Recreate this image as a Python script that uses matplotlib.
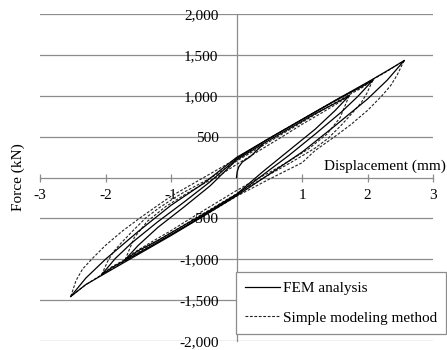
import matplotlib
matplotlib.use("Agg")
import matplotlib.pyplot as plt
from matplotlib.lines import Line2D

# ---------------- data (displacement mm, force kN) ----------------
# FEM analysis
fem_init_d = [0.0, 0.01, 0.035, 0.09, 0.21, 0.4]
fem_init_f = [0, 70, 130, 190, 255, 400]

fem_l1_up_d = [-1.70, -1.5, -1.2, -0.8, -0.4, 0.0, 0.4, 0.8, 1.2, 1.5, 1.72]
fem_l1_up_f = [-1005, -830, -610, -360, -100, 215, 410, 595, 780, 905, 1000]
fem_l1_lo_d = [1.72, 1.5, 1.2, 0.8, 0.4, 0.0, -0.4, -0.8, -1.2, -1.5, -1.70]
fem_l1_lo_f = [1000, 815, 590, 330, 70, -205, -400, -585, -770, -895, -1005]

fem_l2_up_d = [-2.06, -1.85, -1.6, -1.2, -0.8, -0.4, 0.0, 0.4, 0.8, 1.2, 1.6, 1.9, 2.08]
fem_l2_up_f = [-1190, -990, -800, -540, -300, -50, 230, 430, 615, 800, 980, 1105, 1188]
fem_l2_lo_d = [2.08, 1.85, 1.6, 1.2, 0.8, 0.4, 0.0, -0.4, -0.8, -1.2, -1.6, -1.9, -2.06]
fem_l2_lo_f = [1188, 990, 800, 530, 270, 30, -215, -410, -605, -790, -970, -1100, -1190]

fem_l3_up_d = [-2.53, -2.3, -2.0, -1.5, -1.0, -0.5, 0.0, 0.5, 1.0, 1.5, 2.0, 2.3, 2.56]
fem_l3_up_f = [-1455, -1230, -1000, -660, -340, -70, 245, 480, 710, 940, 1165, 1305, 1430]
fem_l3_lo_d = [2.56, 2.3, 2.0, 1.5, 1.0, 0.5, 0.0, -0.5, -1.0, -1.5, -2.0, -2.3, -2.53]
fem_l3_lo_f = [1430, 1190, 960, 630, 310, 40, -225, -470, -710, -940, -1170, -1310, -1455]

# Simple modeling method
sm_l1_up_d = [-1.70, -1.56, -1.36, -1.08, -0.78, -0.48, -0.31, 0.0, 0.35, 0.7, 1.0, 1.3, 1.55, 1.72]
sm_l1_up_f = [-1005, -735, -535, -355, -205, -65, 0, 160, 330, 500, 650, 790, 910, 1000]
sm_l1_lo_d = [1.72, 1.58, 1.38, 1.1, 0.8, 0.5, 0.33, 0.0, -0.35, -0.7, -1.0, -1.3, -1.55, -1.70]
sm_l1_lo_f = [1000, 730, 530, 350, 200, 60, -10, -160, -330, -500, -650, -790, -910, -1005]

sm_l2_up_d = [-2.06, -1.97, -1.88, -1.76, -1.58, -1.38, -1.18, -0.93, -0.78, -0.38, 0.0, 0.4, 0.8, 1.2, 1.6, 1.9, 2.08]
sm_l2_up_f = [-1190, -1030, -910, -800, -650, -490, -370, -240, -170, 0, 200, 390, 580, 770, 960, 1090, 1188]
sm_l2_lo_d = [2.08, 1.99, 1.9, 1.78, 1.6, 1.4, 1.2, 0.95, 0.8, 0.4, 0.0, -0.4, -0.8, -1.2, -1.6, -1.9, -2.06]
sm_l2_lo_f = [1188, 1030, 910, 800, 640, 480, 360, 240, 170, -10, -200, -390, -580, -770, -960, -1090, -1190]

sm_l3_up_d = [-2.53, -2.45, -2.35, -2.2, -2.0, -1.75, -1.5, -1.2, -1.0, -0.5, 0.0, 0.5, 1.0, 1.5, 2.0, 2.3, 2.56]
sm_l3_up_f = [-1455, -1260, -1120, -990, -830, -660, -510, -340, -230, 0, 230, 480, 710, 940, 1160, 1300, 1430]
sm_l3_lo_d = [2.56, 2.45, 2.35, 2.22, 2.0, 1.75, 1.5, 1.2, 1.0, 0.5, 0.0, -0.5, -1.0, -1.5, -2.0, -2.3, -2.53]
sm_l3_lo_f = [1430, 1250, 1120, 1000, 820, 650, 500, 330, 180, -20, -230, -470, -700, -930, -1160, -1310, -1455]

x_ticks = [-3, -2, -1, 1, 2, 3]
x_tick_labels = ["-3", "-2", "-1", "1", "2", "3"]
y_ticks = [2000, 1500, 1000, 500, -500, -1000, -1500, -2000]
y_tick_labels = ["2,000", "1,500", "1,000", "500", "-500", "-1,000", "-1,500", "-2,000"]

series_names = ["FEM analysis", "Simple modeling method"]

# ---------------- figure ----------------
W, H = 447, 350
fig = plt.figure(figsize=(W / 100, H / 100), dpi=100)
plt.rcParams['font.family'] = ['Liberation Serif', 'DejaVu Serif']
FS = 11

ax = fig.add_axes([40 / W, 9 / H, 393 / W, 327 / H])
ax.set_xlim(-3, 3)
ax.set_ylim(-2000, 2000)
ax.patch.set_alpha(0)

gray = "#8c8c8c"
ax.yaxis.grid(True, color=gray, lw=0.9, zorder=0)
ax.set_axisbelow(True)

for s in ["top", "right"]:
    ax.spines[s].set_visible(False)
ax.spines["left"].set_position(("data", 0))
ax.spines["bottom"].set_position(("data", 0))
ax.spines["left"].set_color(gray)
ax.spines["bottom"].set_color(gray)
ax.spines["left"].set_linewidth(0.9)
ax.spines["bottom"].set_linewidth(0.9)

ax.set_xticks(x_ticks)
ax.set_xticklabels(x_tick_labels, fontsize=FS)
ax.tick_params(axis="x", direction="inout", length=6, width=0.9, color=gray, pad=5)
ax.set_yticks(y_ticks)
ax.set_yticklabels(y_tick_labels, fontsize=FS)
ax.tick_params(axis="y", length=0, pad=13)

dash = (0, (2.5, 1.5))
sm_branches = [(sm_l1_up_d, sm_l1_up_f), (sm_l1_lo_d, sm_l1_lo_f),
               (sm_l2_up_d, sm_l2_up_f), (sm_l2_lo_d, sm_l2_lo_f),
               (sm_l3_up_d, sm_l3_up_f), (sm_l3_lo_d, sm_l3_lo_f)]
for d, f in sm_branches:
    ax.plot(d, f, color="#222222", lw=0.8, linestyle=dash, zorder=3)

fem_branches = [(fem_init_d, fem_init_f),
                (fem_l1_up_d, fem_l1_up_f), (fem_l1_lo_d, fem_l1_lo_f),
                (fem_l2_up_d, fem_l2_up_f), (fem_l2_lo_d, fem_l2_lo_f),
                (fem_l3_up_d, fem_l3_up_f), (fem_l3_lo_d, fem_l3_lo_f)]
for d, f in fem_branches:
    ax.plot(d, f, color="black", lw=0.9, zorder=4)

fig.text(446 / W, (H - 170) / H, "Displacement (mm)", ha="right", va="baseline", fontsize=FS)
fig.text(18 / W, (H - 177) / H, "Force (kN)", ha="center", va="center", rotation=90, fontsize=FS)

handles = [Line2D([], [], color="black", lw=0.9),
           Line2D([], [], color="#222222", lw=0.8, linestyle=dash)]
leg = ax.legend(handles, series_names, loc="lower right",
                bbox_to_anchor=(446 / W, (H - 334) / H), bbox_transform=fig.transFigure,
                fancybox=False, framealpha=1, edgecolor=gray, fontsize=FS,
                handlelength=2.3, handletextpad=0.15, labelspacing=1.05,
                borderpad=0.6, borderaxespad=0)
leg.get_frame().set_linewidth(0.9)
leg.set_zorder(10)

fig.savefig("out.png", dpi=100)
